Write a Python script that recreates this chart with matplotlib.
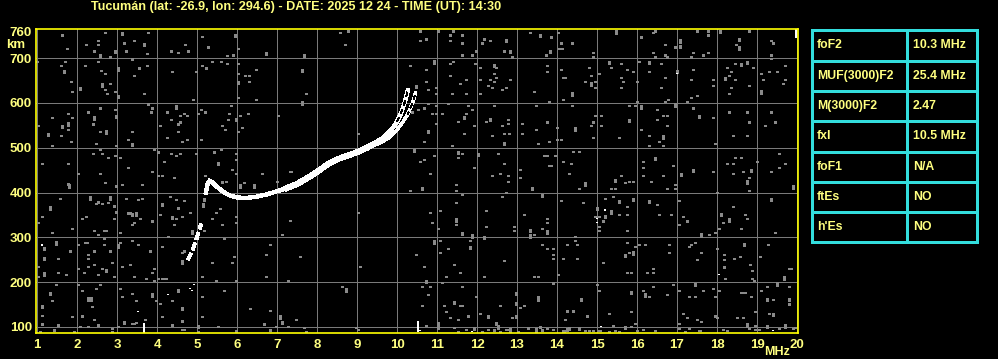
import matplotlib
matplotlib.use("Agg")
import matplotlib.pyplot as plt

# ---------------- data ----------------
title = "Tucumán (lat: -26.9, lon: 294.6) - DATE: 2025 12 24 - TIME (UT): 14:30"
x_ticks = list(range(1, 21))
y_ticks = [100, 200, 300, 400, 500, 600, 700, 760]
grid_y = [100, 200, 300, 400, 500, 600, 700]

table_labels = ["foF2", "MUF(3000)F2", "M(3000)F2", "fxI", "foF1", "ftEs", "h'Es"]
table_values = ["10.3 MHz", "25.4 MHz", "2.47", "10.5 MHz", "N/A", "NO", "NO"]

# lower rising O-trace (broken)
low_mhz = [4.77, 4.83, 4.88, 4.93, 4.98, 5.03, 5.08, 5.11]
low_km = [250, 260, 270, 282, 294, 309, 324, 330]

# main O-trace
o_mhz = [5.22, 5.27, 5.35, 5.5, 5.65, 5.8, 6.0, 6.25, 6.5, 6.75, 7.0, 7.25, 7.5,
         7.75, 8.0, 8.25, 8.5, 8.75, 9.0, 9.25, 9.5, 9.75, 9.9, 10.0, 10.1, 10.2, 10.27]
o_km = [400, 422, 425, 413, 402, 394, 389, 388, 391, 396, 403, 410, 419,
        432, 446, 462, 474, 482, 490, 500, 512, 530, 545, 558, 577, 603, 628]

# X-trace
x_mhz = [9.3, 9.6, 9.8, 10.0, 10.15, 10.27, 10.35, 10.42, 10.46]
x_km = [500, 512, 522, 540, 558, 575, 592, 608, 622]

# white isolated marks (MHz, km)
white_dots = [(4.28, 172), (4.83, 186), (4.88, 182), (4.93, 195), (3.53, 134), (1.13, 283),
              (15.19, 361), (14.99, 342), (14.99, 333), (18.04, 217), (16.99, 665),
              (15.09, 101), (19.39, 92), (11.88, 90), (10.58, 92), (5.3, 430)]
white_bars = [(3.68, 97), (10.53, 101), (19.98, 757)]

# gray noise: single dots (MHz, km)
noise_dots = [
    (1.63, 752), (2.69, 757), (3.78, 757), (1.74, 721), (2.23, 730), (2.53, 739), (2.53, 730),
    (2.43, 716), (2.82, 703), (3.18, 734), (3.43, 739), (3.23, 716), (3.74, 710), (4.34, 716),
    (4.53, 712), (4.69, 730), (4.78, 716), (5.13, 748), (5.28, 725), (5.74, 706), (5.89, 707),
    (6.03, 721), (1.0, 693), (1.59, 684), (1.69, 693), (1.84, 648), (1.88, 626), (2.19, 684),
    (2.53, 693), (2.59, 673), (2.69, 666), (2.83, 643), (2.69, 630), (2.74, 621), (2.94, 626),
    (3.38, 698), (3.56, 678), (3.74, 684), (3.43, 661), (3.68, 621), (4.38, 670), (4.89, 608),
    (4.98, 670), (5.13, 684), (5.23, 678), (5.38, 693), (5.59, 693), (5.74, 688), (6.03, 688),
    (6.03, 666), (6.19, 661), (6.29, 661), (6.29, 648), (6.48, 675), (6.03, 612), (6.48, 608),
    (1.03, 550), (1.38, 568), (1.78, 577), (1.88, 568), (1.78, 541), (1.59, 527), (1.84, 514),
    (1.38, 505), (2.28, 580), (2.58, 589), (2.94, 585), (2.40, 553), (2.58, 536), (2.48, 510),
    (2.98, 505), (3.38, 536), (3.28, 518), (3.78, 598), (3.88, 589), (3.85, 580), (4.24, 580),
    (4.34, 563), (4.58, 572), (4.68, 577), (4.74, 572), (4.53, 553), (4.58, 557), (4.08, 550),
    (4.53, 536), (4.24, 523), (4.63, 514), (4.74, 518), (5.09, 585), (5.19, 580), (5.03, 577),
    (5.84, 594), (5.79, 577), (5.78, 563), (5.63, 550), (5.69, 541), (6.13, 545), (6.28, 577),
    (6.08, 572), (6.03, 536), (5.09, 518), (7.03, 572), (1.13, 465), (1.78, 465), (2.03, 443),
    (2.58, 443), (2.39, 487), (2.58, 496), (2.63, 487), (2.78, 478), (2.94, 483), (3.08, 478),
    (3.28, 456), (3.88, 447), (3.93, 496), (4.03, 491), (4.18, 469), (4.34, 487), (4.48, 483),
    (4.58, 487), (4.03, 438), (4.13, 438), (4.43, 434), (4.98, 487), (5.43, 491), (5.59, 496),
    (5.19, 438), (5.88, 451), (5.98, 443), (5.98, 487), (5.98, 474), (6.63, 443), (7.33, 447),
    # 7.3 - 13.7 MHz, upper half
    (8.58, 757), (8.78, 761), (8.69, 730), (7.73, 621), (10.58, 761), (10.58, 739), (10.73, 743),
    (11.03, 761), (11.33, 752), (11.41, 761), (11.63, 752), (11.33, 739), (11.63, 734),
    (11.63, 707), (11.88, 707), (11.98, 716), (12.13, 734), (12.18, 743), (12.33, 739),
    (12.68, 716), (12.88, 703), (13.33, 757), (10.33, 684), (10.73, 675), (11.33, 688),
    (11.41, 693), (11.94, 688), (12.08, 679), (12.48, 679), (12.43, 666), (12.48, 657),
    (12.43, 648), (12.33, 652), (12.28, 639), (12.38, 635), (12.63, 630), (12.73, 635),
    (12.83, 652), (12.08, 652), (11.73, 652), (11.58, 643), (11.33, 661), (10.73, 648),
    (10.78, 630), (10.98, 635), (10.98, 621), (11.38, 621), (11.73, 621), (12.08, 621),
    (13.43, 626), (10.38, 580), (10.53, 585), (10.68, 589), (10.78, 599), (10.98, 594),
    (10.88, 577), (10.98, 577), (11.13, 577), (10.98, 554), (11.28, 599), (11.78, 594),
    (11.88, 585), (11.73, 577), (11.53, 559), (11.93, 550), (12.23, 559), (12.63, 550),
    (12.78, 563), (12.78, 554), (12.43, 594), (13.13, 554), (13.48, 594), (13.48, 541),
    (13.53, 510), (9.03, 532), (10.68, 514), (11.68, 532), (12.38, 527), (12.68, 532),
    (12.81, 532), (13.13, 532), (11.38, 505), (10.58, 469), (10.68, 474), (10.93, 483),
    (10.83, 443), (11.63, 487), (11.53, 478), (11.93, 456), (12.53, 487), (12.68, 465),
    (12.38, 438), (12.58, 443), (12.78, 438), (13.08, 451), (13.08, 434), (13.68, 483),
    (7.34, 447),
    # 13.7 - 20 MHz, upper half
    (14.03, 757), (13.84, 747), (13.73, 707), (14.09, 734), (14.06, 721), (14.12, 721),
    (14.38, 734), (14.89, 712), (14.89, 703), (16.09, 747), (16.39, 757), (16.44, 761),
    (16.69, 730), (16.94, 725), (16.39, 712), (16.44, 703), (16.69, 707), (16.74, 703),
    (17.39, 712), (17.34, 703), (17.49, 761), (17.64, 707), (17.78, 761), (17.78, 752),
    (17.78, 712), (18.48, 730), (18.79, 761), (19.34, 739), (19.39, 734), (19.34, 707),
    (19.34, 699), (13.74, 684), (13.74, 670), (14.09, 675), (14.14, 657), (14.2, 657),
    (14.69, 648), (14.79, 679), (14.84, 661), (14.94, 648), (14.94, 635), (15.04, 666),
    (14.14, 608), (13.79, 603), (15.34, 679), (15.59, 688), (15.74, 675), (15.89, 670),
    (15.59, 657), (15.64, 648), (15.59, 635), (15.99, 648), (16.04, 693), (16.59, 688),
    (16.29, 670), (16.69, 657), (16.59, 635), (16.78, 608), (16.69, 603), (17.39, 675),
    (17.34, 652), (17.24, 603), (17.34, 612), (17.49, 617), (17.89, 652), (17.89, 639),
    (18.24, 679), (18.34, 670), (18.44, 688), (18.89, 679), (18.29, 661), (18.44, 652),
    (18.34, 635), (18.29, 621), (18.79, 639), (19.09, 666), (19.29, 670), (19.49, 670),
    (19.14, 652), (19.69, 684), (19.69, 652), (19.64, 643), (15.99, 603), (15.79, 594),
    (15.94, 594), (16.49, 585), (17.39, 589), (14.94, 572), (15.09, 572), (15.09, 550),
    (16.49, 563), (16.64, 572), (16.74, 572), (16.74, 550), (17.89, 568), (14.38, 594),
    (14.89, 557), (14.84, 550), (13.74, 557), (13.99, 545), (13.79, 514), (13.99, 518),
    (14.09, 518), (14.89, 523), (15.54, 523), (16.09, 541), (16.29, 527), (16.54, 514),
    (16.64, 505), (16.29, 505), (18.29, 580), (18.74, 580), (18.79, 557), (18.39, 527),
    (18.74, 527), (19.34, 580), (19.44, 557), (19.19, 550), (17.94, 510), (13.74, 483),
    (13.94, 483), (13.79, 460), (13.84, 460), (14.14, 469), (14.39, 492), (14.54, 492),
    (14.34, 465), (14.29, 443), (15.59, 438), (15.44, 429), (16.14, 469), (16.14, 456),
    (16.14, 438), (16.64, 438), (16.89, 460), (17.89, 447), (18.24, 465), (18.44, 478),
    (18.59, 478), (18.39, 465), (18.39, 443), (18.64, 447), (18.79, 434), (18.99, 469),
    (19.54, 487), (19.69, 465), (19.54, 456), (19.34, 447),
    # 1 - 7.3 MHz, lower half
    (1.78, 419), (2.69, 422), (2.98, 415), (3.13, 418), (3.63, 418), (5.63, 424), (5.73, 425),
    (6.18, 422), (7.0, 425), (1.03, 333), (1.13, 346), (1.58, 387), (2.53, 379), (2.48, 376),
    (2.63, 376), (2.78, 378), (2.93, 370), (2.93, 342), (2.97, 357), (2.13, 342), (2.23, 346),
    (3.23, 387), (3.28, 354), (3.32, 354), (3.58, 342), (3.43, 333), (3.38, 329), (3.53, 384),
    (3.63, 387), (3.88, 337), (4.08, 351), (4.33, 391), (4.48, 384), (4.48, 342), (4.63, 346),
    (4.83, 355), (4.53, 366), (4.43, 329), (4.67, 382), (5.18, 315), (5.38, 342), (5.48, 355),
    (5.58, 364), (5.63, 329), (5.98, 346), (5.98, 333), (1.38, 311), (1.88, 320), (2.43, 315),
    (2.53, 306), (2.68, 315), (2.72, 315), (2.68, 297), (3.08, 311), (1.53, 253), (1.83, 270),
    (2.03, 284), (2.2, 288), (2.24, 288), (2.43, 270), (2.28, 262), (2.28, 253), (2.68, 284),
    (2.83, 270), (2.88, 244), (3.08, 288), (3.38, 293), (3.53, 284), (3.83, 270), (4.13, 280),
    (4.28, 302), (4.63, 266), (4.68, 270), (5.68, 297), (5.88, 244), (5.93, 257), (5.38, 244),
    (6.83, 284), (6.73, 262), (7.13, 306), (1.03, 235), (1.03, 213), (1.53, 221), (1.73, 217),
    (2.03, 230), (2.18, 221), (2.28, 235), (2.43, 239), (2.63, 230), (2.53, 217), (2.93, 213),
    (3.13, 235), (3.33, 239), (3.43, 213), (3.73, 208), (3.93, 230), (3.88, 221), (3.93, 204),
    (4.03, 208), (4.13, 208), (4.17, 208), (4.23, 208), (5.13, 213), (5.48, 204), (5.98, 204),
    (6.73, 213), (7.28, 204), (1.38, 159), (1.48, 195), (2.03, 195), (2.13, 181), (2.28, 165),
    (2.28, 160), (2.34, 165), (2.34, 160), (2.48, 186), (2.58, 195), (2.38, 146), (3.08, 186),
    (3.13, 168), (3.38, 175), (3.48, 159), (3.98, 159), (4.08, 153), (4.38, 159), (5.13, 168),
    (5.68, 181), (6.33, 141), (6.83, 137), (1.13, 126), (1.88, 123), (2.13, 125), (2.43, 117),
    (3.38, 108), (3.42, 108), (3.48, 110), (3.69, 117), (4.13, 123), (4.63, 113), (4.38, 104),
    (5.13, 123), (1.53, 104), (1.13, 107), (2.08, 101), (2.28, 101), (2.53, 104), (2.88, 97),
    (3.03, 101), (4.63, 94), (4.68, 94), (5.53, 101), (6.68, 107), (6.98, 101), (7.28, 101),
    (1.08, 90), (1.43, 93), (1.93, 90), (2.88, 90), (5.03, 90), (5.97, 91), (6.83, 93),
    # 7.3 - 13.7 MHz, lower half
    (10.33, 404), (11.48, 418), (11.48, 404), (11.63, 396), (11.48, 378), (12.78, 425),
    (12.63, 391), (12.73, 400), (7.33, 338), (9.03, 355), (10.83, 355), (11.08, 360),
    (10.88, 333), (11.03, 320), (11.48, 329), (12.23, 360), (12.23, 324), (12.93, 324),
    (12.93, 315), (13.18, 351), (13.43, 306), (13.63, 320), (11.08, 293), (11.28, 275),
    (11.08, 266), (11.83, 293), (10.48, 262), (10.68, 235), (11.43, 239), (11.58, 221),
    (11.23, 213), (12.18, 213), (12.68, 248), (13.63, 284), (7.58, 257), (9.08, 235),
    (13.43, 213), (13.53, 213), (8.63, 190), (10.63, 190), (10.83, 190), (11.13, 199),
    (10.78, 172), (11.63, 190), (10.63, 148), (11.18, 148), (11.23, 134), (11.58, 148),
    (11.62, 148), (11.33, 121), (11.53, 117), (11.78, 125), (11.98, 168), (12.08, 130),
    (12.58, 148), (12.88, 121), (13.08, 143), (13.18, 148), (13.53, 159), (7.48, 117),
    (7.68, 99), (7.73, 90), (9.03, 94), (8.98, 99), (10.73, 103), (11.43, 99), (11.53, 90),
    (11.73, 94), (12.13, 90), (12.28, 94), (12.43, 93), (12.58, 90), (12.73, 94), (12.77, 94),
    (13.03, 90), (13.28, 98), (13.58, 100), (13.63, 93),
    # 13.7 - 20 MHz, lower half
    (14.54, 409), (15.44, 425), (15.34, 409), (15.44, 409), (15.69, 422), (15.79, 425),
    (15.89, 425), (16.34, 425), (16.74, 409), (16.94, 418), (16.94, 409), (18.79, 404),
    (17.99, 400), (14.09, 382), (14.64, 378), (14.94, 346), (15.04, 346), (15.14, 337),
    (15.04, 324), (15.04, 315), (15.19, 387), (15.39, 391), (15.74, 369), (15.54, 351),
    (15.74, 351), (15.74, 315), (16.49, 373), (16.54, 351), (16.84, 351), (17.04, 382),
    (17.04, 329), (17.14, 346), (17.24, 337), (17.79, 306), (17.94, 311), (18.04, 320),
    (18.14, 333), (18.39, 369), (18.69, 351), (18.74, 342), (18.59, 320), (19.44, 311),
    (13.74, 342), (13.74, 333), (14.44, 302), (14.44, 293), (14.24, 284), (14.49, 284),
    (13.74, 275), (13.89, 275), (13.89, 262), (13.89, 253), (14.14, 253), (14.49, 253),
    (15.14, 244), (15.74, 288), (15.94, 280), (15.79, 266), (16.04, 284), (16.19, 284),
    (16.79, 284), (16.79, 266), (17.29, 280), (17.34, 284), (17.44, 288), (17.59, 266),
    (17.49, 250), (17.99, 275), (18.17, 262), (18.17, 250), (18.17, 234), (18.42, 253),
    (18.57, 257), (18.82, 239), (18.87, 226), (18.87, 208), (18.92, 204), (19.07, 257),
    (19.27, 284), (19.79, 230), (19.84, 230), (18.19, 208), (15.74, 221), (15.84, 221),
    (16.24, 221), (16.39, 230), (16.39, 221), (14.03, 217), (13.89, 198), (14.99, 195),
    (15.04, 181), (16.14, 181), (16.29, 168), (16.39, 190), (16.74, 172), (16.89, 195),
    (17.04, 181), (17.29, 168), (17.44, 168), (17.64, 181), (17.89, 186), (18.04, 181),
    (17.94, 168), (18.59, 177), (18.64, 177), (18.69, 177), (18.84, 168), (19.09, 181),
    (19.24, 190), (19.79, 190), (14.59, 163), (14.59, 159), (19.79, 163), (19.79, 159),
    (19.24, 163), (19.24, 159), (19.39, 161), (19.79, 151), (14.24, 136), (14.39, 136),
    (14.74, 125), (14.19, 117), (15.29, 130), (15.84, 134), (15.94, 108), (15.39, 103),
    (17.04, 108), (17.14, 130), (17.24, 121), (17.49, 117), (17.59, 112), (17.94, 125),
    (17.99, 121), (18.49, 121), (18.64, 121), (18.94, 134), (18.94, 103), (19.29, 130),
    (19.94, 99), (13.74, 97), (13.89, 95), (14.14, 91), (14.18, 91), (14.69, 92), (14.79, 92),
    (14.89, 92), (15.04, 92), (15.08, 92), (15.29, 89), (15.44, 92), (15.54, 89), (15.84, 101),
    (15.99, 92), (16.14, 94), (16.44, 92), (17.04, 97), (17.19, 89), (17.29, 97), (17.54, 92),
    (17.58, 92), (18.14, 94), (18.24, 92), (18.74, 101), (18.79, 97), (18.94, 94), (19.04, 94),
    (19.54, 97), (19.69, 99), (19.89, 97),
]

# gray noise: short vertical streaks (MHz, km)
noise_bars = [
    (3.13, 755), (1.68, 670), (2.58, 706), (2.94, 715), (3.68, 731), (5.94, 751), (6.73, 710),
    (2.63, 640), (2.08, 632), (3.03, 676), (3.03, 614), (6.03, 646), (1.63, 548), (1.78, 553),
    (1.28, 530), (2.43, 566), (2.98, 570), (2.73, 535), (3.38, 507), (4.48, 591), (5.98, 563),
    (5.53, 465), (7.68, 706), (7.63, 672), (7.63, 600), (12.73, 739), (12.83, 715), (13.58, 751),
    (10.92, 691), (12.43, 684), (10.48, 637), (11.68, 568), (12.33, 563), (10.78, 536),
    (12.67, 510), (10.43, 494), (11.53, 489), (12.03, 485), (15.48, 758), (17.08, 738),
    (17.08, 726), (18.08, 760), (18.54, 741), (18.54, 723), (13.83, 715), (14.84, 642),
    (14.38, 620), (15.29, 690), (16.29, 690), (16.99, 670), (18.59, 686), (18.74, 690),
    (18.19, 655), (19.09, 624), (16.09, 591), (16.94, 595), (15.79, 561), (17.54, 570),
    (14.44, 542), (16.64, 524), (16.44, 476), (17.09, 440), (17.39, 449), (18.84, 449),
    (1.8, 415), (6.08, 415), (6.43, 415), (1.33, 366), (2.33, 388), (2.83, 388), (3.38, 351),
    (3.48, 352), (4.13, 373), (4.38, 345), (4.88, 312), (5.18, 384), (5.16, 372), (1.18, 275),
    (1.18, 253), (1.48, 287), (3.03, 281), (1.18, 218), (2.73, 226), (4.63, 245), (1.33, 175),
    (1.13, 146), (3.88, 171), (4.53, 181), (4.63, 141), (3.18, 110), (5.03, 101), (7.08, 122),
    (7.13, 110), (10.63, 409), (13.38, 409), (13.63, 393), (11.48, 339), (11.63, 308),
    (11.88, 303), (12.18, 300), (13.33, 315), (13.33, 303), (10.93, 290), (11.83, 277),
    (8.73, 183), (10.73, 201), (11.43, 155), (12.28, 123), (12.98, 175), (12.98, 152),
    (12.98, 123), (13.53, 166), (11.03, 107), (11.03, 100), (11.93, 97), (12.48, 108),
    (12.53, 100), (12.83, 93), (13.48, 93), (14.69, 419), (18.74, 424), (19.89, 412),
    (14.99, 364), (15.21, 346), (15.34, 357), (15.54, 380), (15.89, 384), (16.29, 380),
    (17.59, 305), (18.09, 351), (18.29, 339), (19.34, 384), (13.74, 312), (15.69, 260),
    (15.89, 265), (18.67, 284), (19.67, 209), (15.84, 177), (16.19, 171), (17.44, 195),
    (19.49, 196), (18.74, 106), (19.39, 128), (19.69, 103), (14.24, 94), (14.29, 97),
    (14.54, 97), (15.69, 99), (19.24, 101),
]

# ---------------- style ----------------
BG = "black"
YEL = "#ffff80"
SPINE = "#ffff00"
GRID = "#7a7a7a"
NOISE = "#8a8a8a"
CYAN = "#33dddd"
FONT = ["Liberation Sans", "DejaVu Sans"]

W, H = 998, 359
fig = plt.figure(figsize=(W / 100, H / 100), dpi=100, facecolor=BG)
ax = fig.add_axes([36 / W, 26 / H, 762 / W, 304 / H], facecolor=BG)
ax.set_xlim(0.975, 20.025)
ax.set_ylim(86.6, 765)

for xv in x_ticks:
    ax.axvline(xv, color=GRID, lw=0.6, antialiased=False, zorder=1)
for yv in grid_y:
    ax.axhline(yv, color=GRID, lw=0.6, antialiased=False, zorder=1)

# noise
ax.vlines([p[0] for p in noise_dots], [p[1] - 1.6 for p in noise_dots],
          [p[1] + 1.6 for p in noise_dots], colors=NOISE, lw=0.9, antialiased=False, zorder=2)
ax.vlines([p[0] for p in noise_bars], [p[1] - 3.8 for p in noise_bars],
          [p[1] + 3.8 for p in noise_bars], colors=NOISE, lw=0.9, antialiased=False, zorder=2)
ax.vlines([p[0] for p in white_dots], [p[1] - 1.5 for p in white_dots],
          [p[1] + 1.5 for p in white_dots], colors="white", lw=1.4, antialiased=False, zorder=3)
ax.vlines([p[0] for p in white_bars], [p[1] - 12 for p in white_bars],
          [p[1] + 12 for p in white_bars], colors="white", lw=1.4, antialiased=False, zorder=3)

# traces
ax.plot(low_mhz, low_km, color="white", lw=1.8, ls=(0, (3, 1.5)), antialiased=False, zorder=4)
ax.plot(o_mhz, o_km, color="white", lw=2.4, antialiased=False, zorder=4,
        solid_joinstyle="round")
ax.plot(o_mhz[11:21], o_km[11:21], color="white", lw=3.6, antialiased=False, zorder=4)
ax.plot(o_mhz[-4:], o_km[-4:], color="black", lw=0.8, ls=(0, (4, 4)), antialiased=False, zorder=5)
ax.plot(x_mhz, x_km, color="white", lw=1.8, antialiased=False, zorder=4)
ax.plot(x_mhz[-4:], x_km[-4:], color="black", lw=0.8, ls=(2, (4, 4)), antialiased=False, zorder=5)

for s in ax.spines.values():
    s.set_color(SPINE)
    s.set_linewidth(1.2)
    s.set_zorder(6)

ax.set_xticks(x_ticks)
ax.set_xticklabels([str(v) for v in x_ticks])
ax.set_yticks(y_ticks)
ax.set_yticklabels([str(v) for v in y_ticks])
ax.tick_params(axis="both", length=0, colors=YEL, labelsize=9.5)
ax.tick_params(axis="x", pad=4.5)
ax.tick_params(axis="y", pad=3)
for lab in ax.get_xticklabels() + ax.get_yticklabels():
    lab.set_fontweight("bold")
    lab.set_family(FONT)

# overlay in pixel coordinates for title, unit labels and table
ov = fig.add_axes([0, 0, 1, 1], facecolor="none")
ov.set_xlim(0, W)
ov.set_ylim(H, 0)
ov.axis("off")

ov.text(91, 7, title, color=YEL, fontsize=9.1, fontweight="bold", family=FONT,
        ha="left", va="center")
ov.text(6, 45, "km", color=YEL, fontsize=9.5, fontweight="bold", family=FONT, ha="left", va="center")
ov.text(764, 352, "MHz", color=YEL, fontsize=9, fontweight="bold", family=FONT,
        ha="left", va="center")

t_left, t_right, t_mid = 812, 977, 907
t_top, row_h = 30.3, 30.3
n = len(table_labels)
for i in range(n + 1):
    yy = t_top + i * row_h
    ov.plot([t_left, t_right], [yy, yy], color=CYAN, lw=1.0, antialiased=False)
for xx in (t_left, t_mid, t_right):
    ov.plot([xx, xx], [t_top, t_top + n * row_h], color=CYAN, lw=1.0, antialiased=False)
for i, (lab, val) in enumerate(zip(table_labels, table_values)):
    yc = t_top + (i + 0.5) * row_h
    ov.text(817, yc, lab, color=YEL, fontsize=8.8, fontweight="bold", family=FONT,
            ha="left", va="center")
    ov.text(913, yc, val, color=YEL, fontsize=8.8, fontweight="bold", family=FONT,
            ha="left", va="center")

fig.savefig("out.png", dpi=100, facecolor=BG)
